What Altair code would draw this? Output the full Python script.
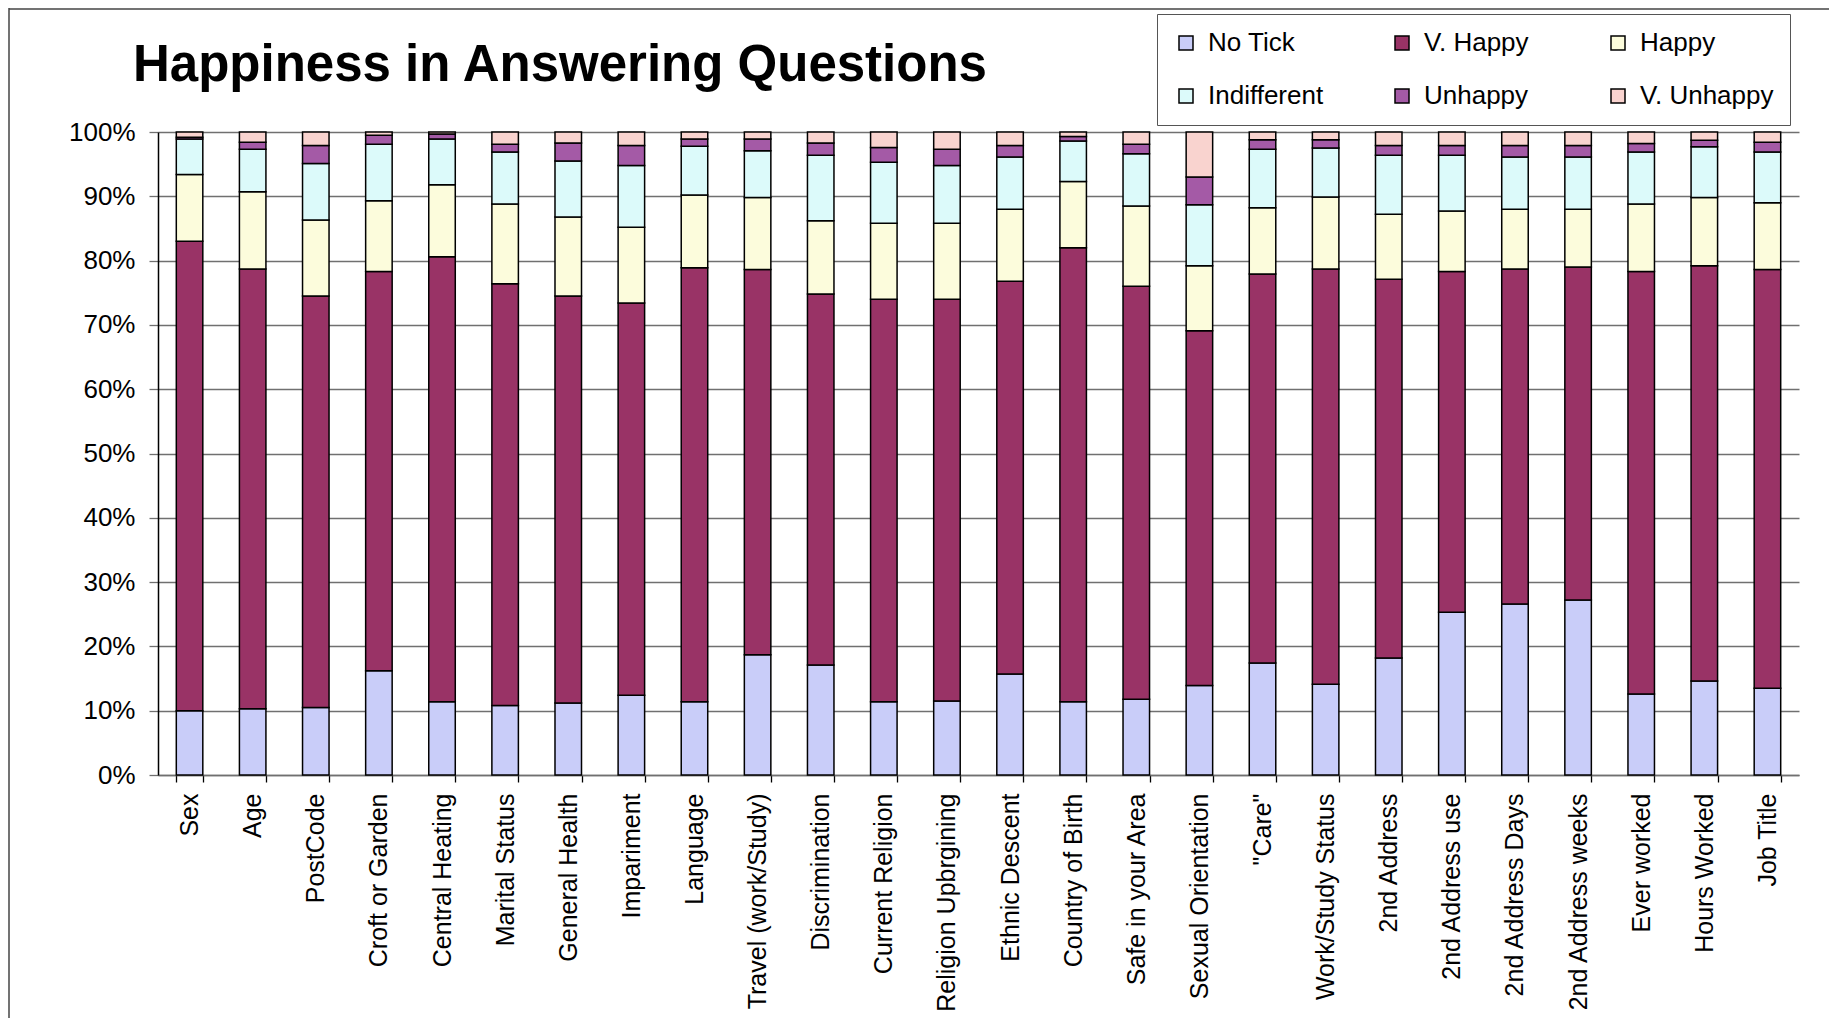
import altair as alt
import pandas as pd

questions = ["Sex", "Age", "PostCode", "Croft or Garden", "Central Heating", "Marital Status",
             "General Health", "Impariment", "Language", "Travel (work/Study)", "Discrimination",
             "Current Religion", "Religion Upbrgining", "Ethnic Descent", "Country of Birth",
             "Safe in your Area", "Sexual Orientation", "\"Care\"", "Work/Study Status",
             "2nd Address", "2nd Address use", "2nd Address Days", "2nd Address weeks",
             "Ever worked", "Hours Worked", "Job Title"]

series = ["No Tick", "V. Happy", "Happy", "Indifferent", "Unhappy", "V. Unhappy"]

no_tick = [10.0, 10.3, 10.5, 16.2, 11.4, 10.8, 11.2, 12.4, 11.4, 18.7, 17.1, 11.4, 11.5,
           15.7, 11.4, 11.8, 13.9, 17.4, 14.1, 18.2, 25.3, 26.6, 27.2, 12.6, 14.6, 13.5]
v_happy = [73.0, 68.4, 64.0, 62.1, 69.2, 65.6, 63.3, 61.0, 67.5, 59.9, 57.7, 62.6, 62.5,
           61.1, 70.6, 64.2, 55.2, 60.5, 64.6, 58.9, 53.0, 52.1, 51.8, 65.7, 64.6, 65.1]
happy = [10.4, 12.0, 11.8, 11.0, 11.2, 12.4, 12.3, 11.8, 11.3, 11.2, 11.4, 11.8, 11.8,
         11.2, 10.3, 12.5, 10.1, 10.3, 11.2, 10.1, 9.4, 9.3, 9.0, 10.5, 10.6, 10.4]
indifferent = [5.5, 6.6, 8.8, 8.8, 7.1, 8.1, 8.7, 9.6, 7.6, 7.3, 10.2, 9.5, 9.0,
               8.1, 6.3, 8.1, 9.5, 9.1, 7.6, 9.2, 8.7, 8.1, 8.1, 8.1, 7.9, 7.9]
unhappy = [0.3, 1.1, 2.8, 1.4, 0.8, 1.2, 2.8, 3.1, 1.1, 1.8, 1.9, 2.3, 2.5,
           1.8, 0.7, 1.5, 4.3, 1.5, 1.3, 1.5, 1.5, 1.8, 1.8, 1.3, 1.0, 1.5]
v_unhappy = [0.8, 1.6, 2.1, 0.5, 0.3, 1.9, 1.7, 2.1, 1.1, 1.1, 1.7, 2.4, 2.7,
             2.1, 0.7, 1.9, 7.0, 1.2, 1.2, 2.1, 2.1, 2.1, 2.1, 1.8, 1.3, 1.6]

colors = ["#c9cdf9", "#993366", "#fcfcdc", "#dcfafa", "#a45aa6", "#f9d3cf"]

title_text = ["Happiness in Answering Questions"]

rows = []
for i, q in enumerate(questions):
    for k, (name, vals) in enumerate(zip(series, [no_tick, v_happy, happy, indifferent, unhappy, v_unhappy])):
        rows.append({"question": q, "series": name, "value": vals[i], "order": k})
df = pd.DataFrame(rows)

FONT = "Liberation Sans"

bars = alt.Chart(df).mark_bar(stroke="black", strokeWidth=1.5).encode(
    x=alt.X("question:N", sort=questions,
            scale=alt.Scale(paddingInner=0.58, paddingOuter=0.29),
            axis=alt.Axis(title=None, labelAngle=270, labelFont=FONT, labelFontSize=25,
                          labelColor="black", labelPadding=11, labelLimit=500,
                          tickSize=7, tickColor="black", tickWidth=1.3, tickBand="extent",
                          domainColor="#707070", domainWidth=1.5, grid=False)),
    y=alt.Y("value:Q", stack="normalize",
            scale=alt.Scale(domain=[0, 1], nice=False),
            axis=alt.Axis(title=None, values=[i / 10 for i in range(11)], format=".0%",
                          labelFont=FONT, labelFontSize=26, labelColor="black",
                          labelPadding=14, tickSize=9, tickColor="#707070", tickWidth=1.3,
                          domainColor="black", domainWidth=1.5,
                          grid=True, gridColor="#707070", gridWidth=1.3)),
    color=alt.Color("series:N", sort=series,
                    scale=alt.Scale(domain=series, range=colors),
                    legend=alt.Legend(title=None, orient="none", legendX=999, legendY=-118,
                                      direction="horizontal", columns=3, gridAlign="all",
                                      columnPadding=47, rowPadding=27, padding=16,
                                      symbolType="square", symbolSize=196,
                                      symbolStrokeColor="black", symbolStrokeWidth=1.5,
                                      labelFont=FONT, labelFontSize=26, labelColor="black",
                                      labelOffset=9, labelLimit=400,
                                      strokeColor="#555555", fillColor="white")),
    order=alt.Order("order:Q", sort="ascending"),
)

title = alt.Chart(pd.DataFrame({"t": title_text})).mark_text(
    font=FONT, fontSize=51, fontWeight="bold", color="black", align="left", baseline="alphabetic"
).encode(text="t:N", x=alt.value(-25), y=alt.value(-51))

border_left = alt.Chart(pd.DataFrame({"t": title_text})).mark_rule(color="#444444", strokeWidth=1.5).encode(
    x=alt.value(-149), y=alt.value(-124), y2=alt.value(900))
border_top = alt.Chart(pd.DataFrame({"t": title_text})).mark_rule(color="#444444", strokeWidth=1.5).encode(
    x=alt.value(-149), x2=alt.value(1700), y=alt.value(-123))

chart = alt.layer(bars, title, border_left, border_top).properties(
    width=1641, height=643,
    autosize=alt.AutoSizeParams(type="none"),
    padding={"left": 150, "top": 124, "right": 30, "bottom": 243},
).configure_view(stroke=None)

chart.save("out.html", embed_options={"renderer": "svg", "actions": False})
